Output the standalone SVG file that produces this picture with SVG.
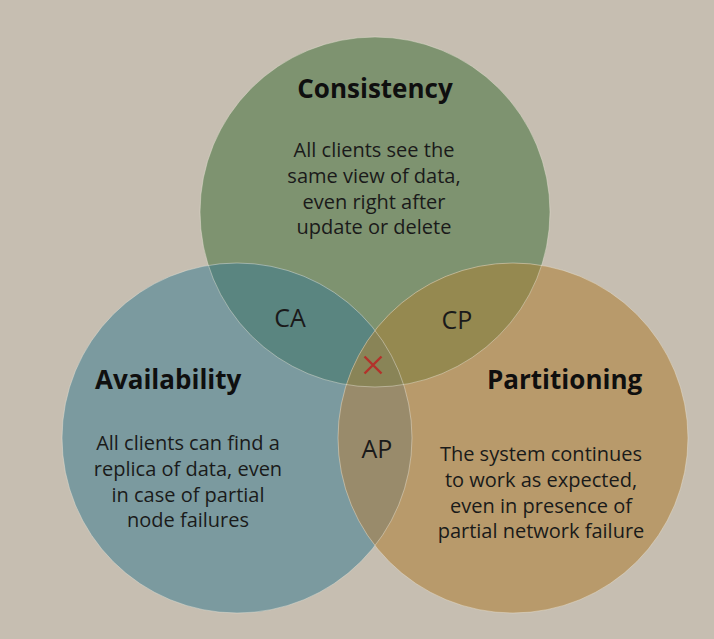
<svg xmlns="http://www.w3.org/2000/svg" width="714" height="639" viewBox="0 0 714 639">
  <style>
    .title { font-family: "Open Sans", "Noto Sans", sans-serif; font-weight: bold; font-size: 26px; fill: #0f0f0f; }
    .body { font-family: "Open Sans", "Noto Sans", sans-serif; font-size: 20px; fill: #1a1a1a; text-anchor: middle; }
    .pair { font-family: "Open Sans", "Noto Sans", sans-serif; font-size: 25px; fill: #1a1a1a; text-anchor: middle; }
    .edge { fill: none; stroke: #e8e4d8; stroke-opacity: 0.45; stroke-width: 1; }
  </style>
  <defs>
    <clipPath id="clipC"><circle cx="375" cy="212" r="175"/></clipPath>
    <clipPath id="clipA"><circle cx="237" cy="438" r="175"/></clipPath>
    <clipPath id="clipP"><circle cx="513" cy="438" r="175"/></clipPath>
  </defs>
  <rect width="714" height="639" fill="#c6beb1"/>

  <g id="consistency">
    <circle cx="375" cy="212" r="175" fill="#7e9370"/>
  </g>
  <g id="availability">
    <circle cx="237" cy="438" r="175" fill="#7b9a9f"/>
  </g>
  <g id="partitioning">
    <circle cx="513" cy="438" r="175" fill="#b89a6b"/>
  </g>

  <g id="ca">
    <g clip-path="url(#clipC)"><circle cx="237" cy="438" r="175" fill="#5a8580"/></g>
  </g>
  <g id="cp">
    <g clip-path="url(#clipC)"><circle cx="513" cy="438" r="175" fill="#958950"/></g>
  </g>
  <g id="ap">
    <g clip-path="url(#clipA)"><circle cx="513" cy="438" r="175" fill="#998b6b"/></g>
  </g>
  <g id="cap">
    <g clip-path="url(#clipC)"><g clip-path="url(#clipA)"><circle cx="513" cy="438" r="175" fill="#898457"/></g></g>
    <path d="M364.5,356.5 L381.5,373.5 M381.5,356.5 L364.5,373.5" stroke="#b3322b" stroke-width="2.4" fill="none"/>
  </g>

  <g id="edges">
    <circle class="edge" cx="375" cy="212" r="175"/>
    <circle class="edge" cx="237" cy="438" r="175"/>
    <circle class="edge" cx="513" cy="438" r="175"/>
  </g>

  <g id="consistency-text">
    <text class="title" x="375" y="98" text-anchor="middle">Consistency</text>
    <text class="body" x="374" y="157">All clients see the</text>
    <text class="body" x="374" y="183">same view of data,</text>
    <text class="body" x="374" y="209">even right after</text>
    <text class="body" x="374" y="234">update or delete</text>
  </g>
  <g id="availability-text">
    <text class="title" x="95" y="389">Availability</text>
    <text class="body" x="188" y="450">All clients can find a</text>
    <text class="body" x="188" y="476">replica of data, even</text>
    <text class="body" x="188" y="502">in case of partial</text>
    <text class="body" x="188" y="527">node failures</text>
  </g>
  <g id="partitioning-text">
    <text class="title" x="487" y="389">Partitioning</text>
    <text class="body" x="541" y="461">The system continues</text>
    <text class="body" x="541" y="487">to work as expected,</text>
    <text class="body" x="541" y="513">even in presence of</text>
    <text class="body" x="541" y="538">partial network failure</text>
  </g>
  <g id="pair-labels">
    <text class="pair" x="290" y="327">CA</text>
    <text class="pair" x="457" y="329">CP</text>
    <text class="pair" x="377" y="458">AP</text>
  </g>
</svg>
